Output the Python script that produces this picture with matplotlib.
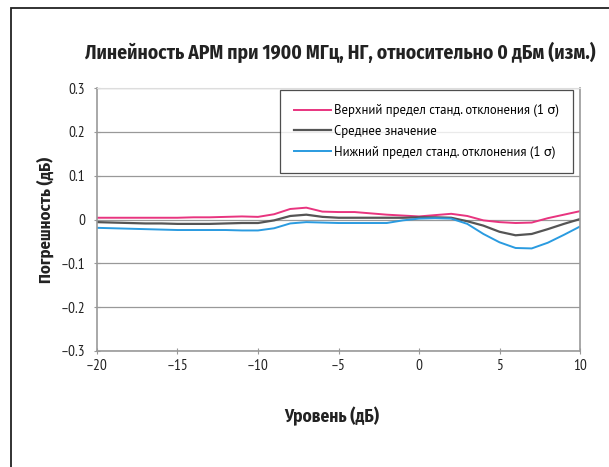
import matplotlib
matplotlib.use("Agg")
from matplotlib import pyplot as plt
from matplotlib.patches import Rectangle

# Данные
level = [-20, -19, -18, -17, -16, -15, -14, -13, -12, -11, -10, -9, -8, -7, -6, -5,
         -4, -3, -2, -1, 0, 1, 2, 3, 4, 5, 6, 7, 8, 9, 10]
upper = [0.004, 0.004, 0.004, 0.004, 0.004, 0.004, 0.005, 0.005, 0.006, 0.007, 0.006,
         0.012, 0.024, 0.027, 0.018, 0.017, 0.017, 0.014, 0.011, 0.009, 0.007, 0.010,
         0.013, 0.008, -0.002, -0.006, -0.008, -0.007, 0.003, 0.011, 0.019]
mean = [-0.006, -0.007, -0.008, -0.009, -0.009, -0.010, -0.010, -0.010, -0.009, -0.008,
        -0.008, -0.002, 0.008, 0.011, 0.006, 0.004, 0.004, 0.004, 0.004, 0.004, 0.005,
        0.005, 0.004, -0.004, -0.014, -0.028, -0.036, -0.033, -0.022, -0.010, 0.001]
lower = [-0.019, -0.020, -0.021, -0.022, -0.023, -0.024, -0.024, -0.024, -0.024, -0.025,
         -0.025, -0.020, -0.009, -0.006, -0.007, -0.008, -0.008, -0.008, -0.008, -0.002,
         0.002, 0.003, 0.002, -0.010, -0.033, -0.052, -0.065, -0.066, -0.053, -0.035, -0.016]

xticks = [-20, -15, -10, -5, 0, 5, 10]
yticks = [-0.3, -0.2, -0.1, 0, 0.1, 0.2, 0.3]

titulo = 'Линейность АРМ при 1900 МГц, НГ, относительно 0 дБм (изм.)'
etiquetas = ['Верхний предел станд. отклонения (1 σ)',
             'Среднее значение',
             'Нижний предел станд. отклонения (1 σ)']

plt.rcParams['font.family'] = ['PT Sans Narrow', 'DejaVu Sans']
negrita = ['Fira Sans Condensed', 'DejaVu Sans']

fig = plt.figure(figsize=(6.09, 4.67), dpi=100)

# marco negro del recuadro
fig.patches.append(Rectangle((11 / 609, -0.1), 1.2, 1 - 8 / 467 + 0.1,
                             transform=fig.transFigure, fill=False,
                             edgecolor='#222222', linewidth=1.3))

ax = fig.add_axes([97 / 609, 1 - 351 / 467, 483 / 609, 263 / 467])

ax.plot(level, upper, color='#e8347f', linewidth=1.4, label=etiquetas[0])
ax.plot(level, mean, color='#555555', linewidth=1.6, label=etiquetas[1])
ax.plot(level, lower, color='#2a9be0', linewidth=1.4, label=etiquetas[2])

ax.set_xlim(-20, 10)
ax.set_ylim(-0.3, 0.3)
ax.set_xticks(xticks)
ax.set_yticks(yticks)
ax.set_xticklabels(['\u2013' + str(abs(t)) if t < 0 else str(t) for t in xticks])
ax.set_yticklabels(['\u2013' + str(abs(t)) if t < 0 else str(t) for t in yticks])
ax.yaxis.grid(True, color='#999999', linewidth=0.9)
ax.set_axisbelow(True)
for s in ['left', 'right', 'bottom']:
    ax.spines[s].set_color('#999999')
    ax.spines[s].set_linewidth(1.2)
ax.spines['top'].set_color('#dddddd')
ax.tick_params(axis='both', labelsize=11, color='#999999', direction='inout', length=5,
               labelcolor='#222222')
ax.tick_params(axis='y', pad=6)

leg = ax.legend(loc='upper right', bbox_to_anchor=(476 / 483, 261 / 263),
                borderaxespad=0,
                prop={'family': ['PT Sans', 'DejaVu Sans'], 'size': 9.2},
                frameon=True, fancybox=False, handlelength=2.9, handletextpad=0.2,
                borderpad=1.1, labelspacing=0.6)
leg.get_frame().set_edgecolor('#222222')
leg.get_frame().set_linewidth(0.9)

fig.text(340 / 609, 1 - 52 / 467, titulo, ha='center', va='center', family=negrita,
         fontsize=14, fontweight='bold', color='#222222')
fig.text(332 / 609, 1 - 416 / 467, 'Уровень (дБ)', ha='center', va='center',
         family=negrita, fontsize=12.5, fontweight='bold', color='#222222')
fig.text(45 / 609, 1 - 220 / 467, 'Погрешность (дБ)', ha='center', va='center',
         family=negrita, rotation=90, fontsize=12, fontweight='bold', color='#222222')

fig.savefig('out.png', dpi=100)
